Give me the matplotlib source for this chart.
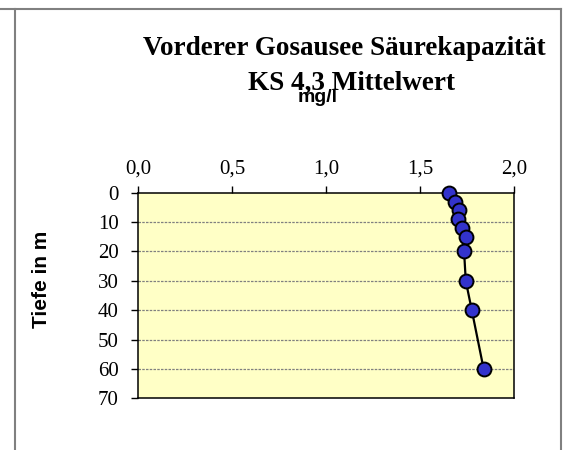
import matplotlib.pyplot as plt
from matplotlib.lines import Line2D

# Mittelwerte KS 4,3 (mg/l) je Tiefe (m)
tiefe = [0, 3, 6, 9, 12, 15, 20, 30, 40, 60]
ks43 = [1.655, 1.686, 1.708, 1.702, 1.722, 1.743, 1.733, 1.742, 1.774, 1.837]

x_ticks = [0.0, 0.5, 1.0, 1.5, 2.0]
y_ticks = [0, 10, 20, 30, 40, 50, 60, 70]

serif = 'Liberation Serif'
sans = 'Liberation Sans'

fig = plt.figure(figsize=(5.69, 4.5), dpi=100)
ax = fig.add_axes([0.2425, 0.1149, 0.6614, 0.4567])
ax.set_facecolor('#FFFFC6')

ax.plot(ks43, tiefe, color='black', lw=1.6, marker='o', markersize=10,
        markerfacecolor='#3333CC', markeredgecolor='black', markeredgewidth=1.4,
        clip_on=False, zorder=3)

ax.set_xlim(0, 2.0)
ax.set_ylim(70, 0)
ax.set_xticks(x_ticks)
ax.set_xticklabels([f'{v:.1f}'.replace('.', ',') for v in x_ticks],
                   fontfamily=serif, fontsize=15)
ax.set_yticks(y_ticks)
ax.set_yticklabels([str(v) for v in y_ticks], fontfamily=serif, fontsize=15)
ax.xaxis.tick_top()
ax.tick_params(axis='x', direction='out', length=5, width=1, pad=5)
ax.tick_params(axis='y', direction='out', length=5, width=1, pad=9)

for yv in y_ticks[1:-1]:
    ax.axhline(yv, color='#808080', lw=0.9, ls=(0, (2, 1)), zorder=1)

for s in ax.spines.values():
    s.set_linewidth(1.1)
    s.set_color('black')

fig.text(41.5 / 569, 1 - 279 / 450, 'Tiefe in m', rotation=90, ha='center',
         va='center', fontfamily=sans, fontweight='bold', fontsize=15)

fig.text(0.605, 0.878, 'Vorderer Gosausee Säurekapazität', ha='center',
         va='baseline', fontfamily=serif, fontweight='bold', fontsize=19.5)
fig.text(0.617, 0.800, 'KS 4,3 Mittelwert', ha='center', va='baseline',
         fontfamily=serif, fontweight='bold', fontsize=19.5)
fig.text(0.559, 0.774, 'mg/l', ha='center', va='baseline',
         fontfamily=sans, fontweight='bold', fontsize=14)

# Rahmen des Diagrammbereichs
border = '#808080'
fig.add_artist(Line2D([0, 561 / 569], [1 - 9 / 450, 1 - 9 / 450],
                      transform=fig.transFigure, color=border, lw=1.5))
fig.add_artist(Line2D([14.5 / 569, 14.5 / 569], [0, 1 - 9 / 450],
                      transform=fig.transFigure, color=border, lw=1.5))
fig.add_artist(Line2D([561 / 569, 561 / 569], [0, 1 - 9 / 450],
                      transform=fig.transFigure, color=border, lw=1.5))

fig.savefig('out.png', dpi=100)
